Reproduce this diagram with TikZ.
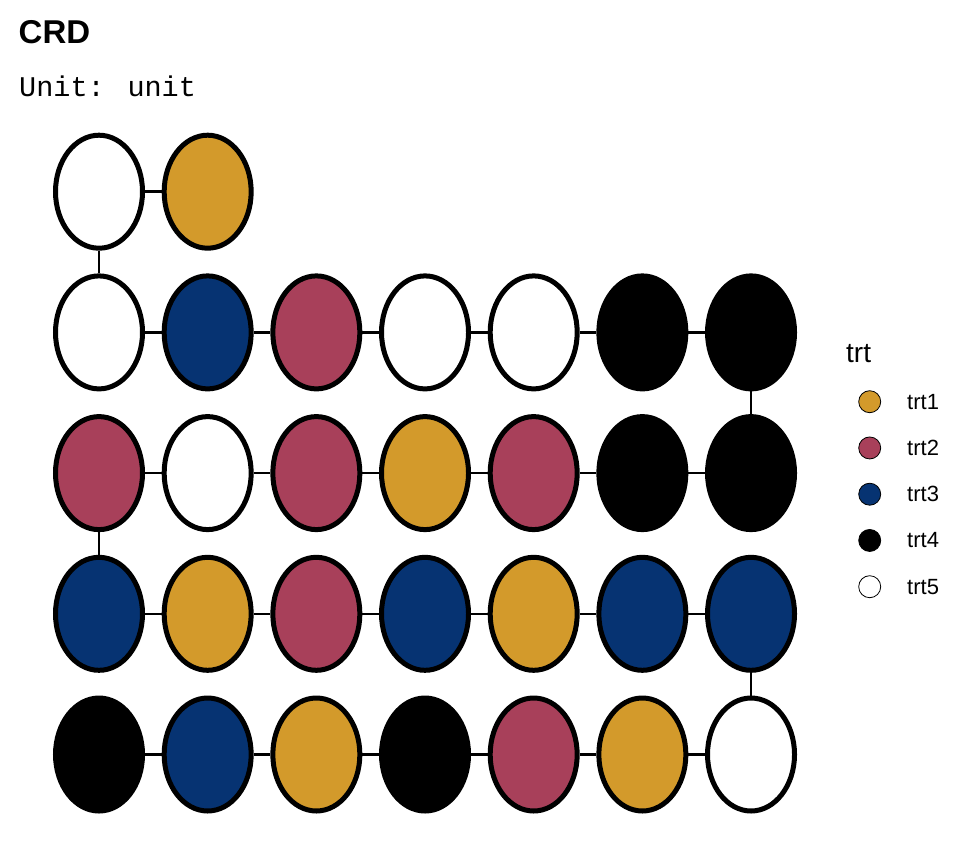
\documentclass[tikz,border=0pt]{standalone}
\usepackage{fontspec}
\setmainfont{Liberation Sans}
\newfontfamily\unitmono{Liberation Mono}
\usetikzlibrary{shapes.geometric}

\definecolor{trta}{HTML}{D39A2B}
\definecolor{trtb}{HTML}{A8405A}
\definecolor{trtc}{HTML}{063372}
\definecolor{trtd}{HTML}{000000}
\definecolor{trte}{HTML}{FFFFFF}

\tikzset{
  plot/.style={ellipse, draw=black, line width=5pt, inner sep=0pt,
    minimum width=87pt, minimum height=113pt},
  link/.style={line width=2.5pt},
  key/.style={circle, draw=black, line width=0.8pt, inner sep=0pt, minimum size=22pt},
  keylab/.style={anchor=west, inner sep=0pt, font=\fontsize{22}{22}\selectfont},
}

\begin{document}
\begin{tikzpicture}[x=1pt,y=-1pt]
  \useasboundingbox (0,0) rectangle (960,864);
  % titles
  \node[anchor=base west, inner sep=0pt, font=\bfseries\fontsize{33}{33}\selectfont] (title) at (18.5,43.3) {CRD};
  \node[anchor=base west, inner sep=0pt, font=\unitmono\fontsize{28.5}{28.5}\selectfont] (subtitle) at (19,97) {Unit: unit};
  % plots, row by row
  \foreach \r/\cols in {1/{trte,trta},
                        2/{trte,trtc,trtb,trte,trte,trtd,trtd},
                        3/{trtb,trte,trtb,trta,trtb,trtd,trtd},
                        4/{trtc,trta,trtb,trtc,trta,trtc,trtc},
                        5/{trtd,trtc,trta,trtd,trtb,trta,trte}}
    \foreach \col [count=\c] in \cols
      \node[plot, fill=\col] (u-\r-\c) at ({99+108.67*(\c-1)},{191.7+140.7*(\r-1)}) {};
  % serpentine links
  \draw[link] (u-1-1) -- (u-1-2);
  \foreach \r in {2,...,5}
    \foreach \c [count=\nxt from 2] in {1,...,6}
      \draw[link] (u-\r-\c) -- (u-\r-\nxt);
  \draw[link] (u-1-1) -- (u-2-1);
  \draw[link] (u-2-7) -- (u-3-7);
  \draw[link] (u-3-1) -- (u-4-1);
  \draw[link] (u-4-7) -- (u-5-7);
  % legend
  \node[anchor=base west, inner sep=0pt, font=\fontsize{28}{28}\selectfont] (legtitle) at (846,362) {trt};
  \foreach \col/\lab [count=\i] in {trta/trt1,trtb/trt2,trtc/trt3,trtd/trt4,trte/trt5}{
    \node[key, fill=\col] (k\i) at (869.7,{401.7+46.25*(\i-1)}) {};
    \node[keylab] (kl\i) at (907,{401.7+46.25*(\i-1)}) {\lab};
  }
\end{tikzpicture}
\end{document}
